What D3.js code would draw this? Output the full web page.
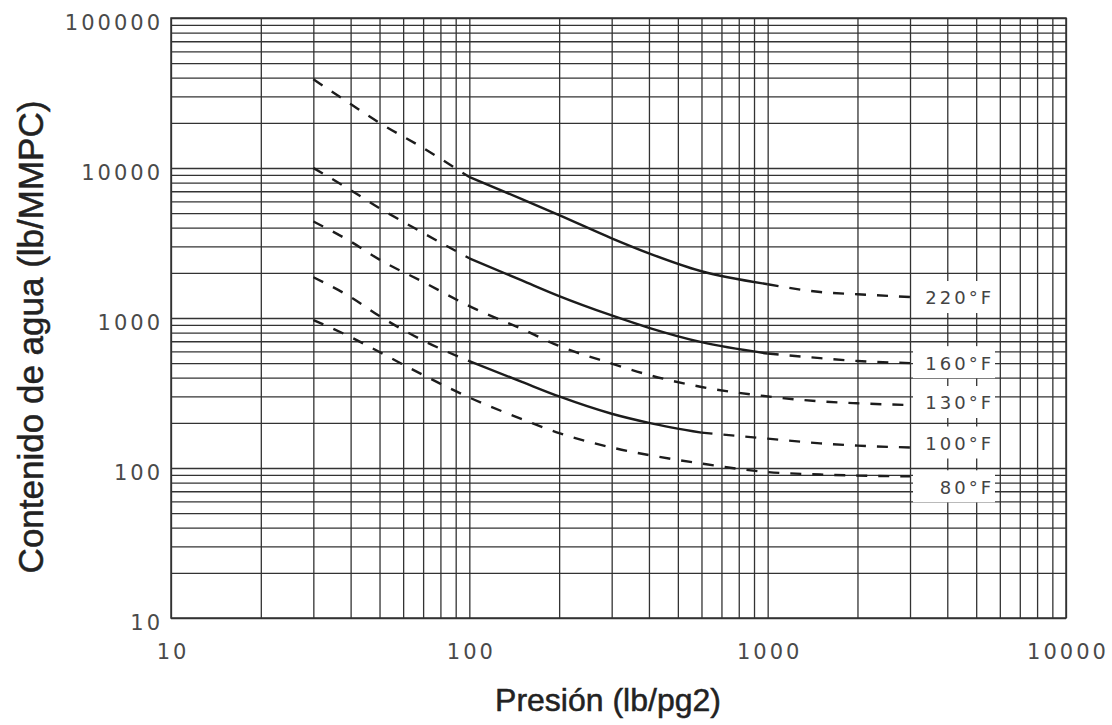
<!DOCTYPE html>
<html>
<head>
<meta charset="utf-8">
<script src="https://cdn.jsdelivr.net/npm/d3@7"></script>
<style>
  html, body { margin: 0; padding: 0; background: #fff; }
  svg { display: block; }
</style>
</head>
<body>
<svg id="chart" width="1112" height="725"></svg>
<script>
// ---------------- DATA ----------------
const seriesNames = ["220°F", "160°F", "130°F", "100°F", "80°F"];
const pressures = [30, 40, 50, 70, 100, 150, 200, 300, 400, 600, 1000, 1500, 2000, 3000];
const water220 = [39000, 26700, 20000, 13600, 8700, 6200, 4850, 3400, 2700, 2050, 1680, 1490, 1440, 1380];
const water160 = [10000, 7130, 5400, 3690, 2500, 1780, 1400, 1040, 860, 690, 580, 540, 517, 500];
const water130 = [4400, 3235, 2450, 1740, 1200, 845, 651, 497, 417, 347, 300, 278, 270, 263];
const water100 = [1870, 1380, 1030, 708, 516, 375, 300, 230, 200, 172, 157, 146, 141, 137];
const water80  = [970, 747, 593, 417, 295, 212, 171, 137, 122, 107, 94, 90.5, 89, 88];
// pressure range drawn as solid line (null = dashed everywhere)
const solidStart = [100, 100, null, 100, null];
const solidEnd   = [1000, 1000, null, 600, null];
const xTickLabels = ["10", "100", "1000", "10000"];
const yTickLabels = ["10", "100", "1000", "10000", "100000"];
const xTitle = "Presión (lb/pg2)";
const yTitle = "Contenido de agua (lb/MMPC)";

// ---------------- LAYOUT ----------------
const plot = { left: 171, right: 1066, top: 18, bottom: 618 };
const labelDy = [1, 0, -2, -4, 11];
const svg = d3.select("#chart");

const x = d3.scaleLog().domain([10, 10000]).range([plot.left, plot.right]);
const y = d3.scaleLog().domain([10, 100000]).range([plot.bottom, plot.top]);

function gridValues(lo, hi) {
  const out = [];
  for (let d = lo; d < hi; d *= 10) for (let k = 1; k <= 9; k++) out.push(d * k);
  out.push(hi);
  return out;
}
const xGrid = gridValues(10, 10000);
const yGrid = gridValues(10, 100000);
const xLabelVals = xTickLabels.map(Number);
const yLabelVals = yTickLabels.map(Number);

const gridColor = "#333";
const tickFont = "DejaVu Sans, sans-serif";

// x axis with grid
const gx = svg.append("g")
  .attr("transform", `translate(0,${plot.bottom})`)
  .call(d3.axisBottom(x)
    .tickValues(xGrid)
    .tickSize(-(plot.bottom - plot.top))
    .tickFormat(d => xLabelVals.includes(d) ? xTickLabels[xLabelVals.indexOf(d)] : ""));
gx.select(".domain").remove();
gx.selectAll(".tick line").attr("stroke", gridColor).attr("stroke-width", 1.3);
gx.selectAll(".tick text")
  .attr("y", 41).attr("dy", null).attr("x", 1.5)
  .attr("font-family", tickFont).attr("font-size", 21)
  .attr("letter-spacing", 3).attr("fill", "#4a4a4a");

// y axis with grid
const gy = svg.append("g")
  .attr("transform", `translate(${plot.left},0)`)
  .call(d3.axisLeft(y)
    .tickValues(yGrid)
    .tickSize(-(plot.right - plot.left))
    .tickFormat(d => yLabelVals.includes(d) ? yTickLabels[yLabelVals.indexOf(d)] : ""));
gy.select(".domain").remove();
gy.selectAll(".tick line").attr("stroke", gridColor).attr("stroke-width", 1.3);
gy.selectAll(".tick text")
  .attr("x", -8).attr("dy", 11)
  .attr("font-family", tickFont).attr("font-size", 21)
  .attr("letter-spacing", 3).attr("fill", "#4a4a4a");

// frame
svg.append("rect")
  .attr("x", plot.left).attr("y", plot.top)
  .attr("width", plot.right - plot.left).attr("height", plot.bottom - plot.top)
  .attr("fill", "none").attr("stroke", gridColor).attr("stroke-width", 1.5);

// ---------------- CURVES ----------------
const seriesValues = [water220, water160, water130, water100, water80];
const line = d3.line()
  .x(d => x(d.p))
  .y(d => y(d.w))
  .curve(d3.curveMonotoneX);

seriesValues.forEach((vals, i) => {
  const pts = pressures.map((p, j) => ({ p, w: vals[j] }));
  const s0 = solidStart[i], s1 = solidEnd[i];
  const segs = [];
  if (s0 === null) {
    segs.push({ pts, dashed: true });
  } else {
    segs.push({ pts: pts.filter(d => d.p <= s0), dashed: true });
    segs.push({ pts: pts.filter(d => d.p >= s0 && d.p <= s1), dashed: false });
    segs.push({ pts: pts.filter(d => d.p >= s1), dashed: true });
  }
  segs.forEach(sg => {
    if (sg.pts.length < 2) return;
    svg.append("path")
      .attr("d", line(sg.pts))
      .attr("fill", "none")
      .attr("stroke", "#1c1c1c")
      .attr("stroke-width", 2.4)
      .attr("stroke-dasharray", sg.dashed ? "11,11" : null);
  });
});

// ---------------- LABELS ----------------
seriesValues.forEach((vals, i) => {
  const cy = y(vals[vals.length - 1]) + labelDy[i];
  const bx = x(pressures[pressures.length - 1]) + 3;
  svg.append("rect")
    .attr("x", bx).attr("y", cy - 17)
    .attr("width", 82).attr("height", 32)
    .attr("fill", "#fff");
  svg.append("text")
    .attr("x", 994).attr("y", cy)
    .attr("dy", "0.36em")
    .attr("text-anchor", "end")
    .attr("font-family", tickFont).attr("font-size", 18)
    .attr("letter-spacing", 3).attr("fill", "#444")
    .text(seriesNames[i]);
});

// ---------------- TITLES ----------------
svg.append("text")
  .attr("x", 608).attr("y", 711)
  .attr("text-anchor", "middle")
  .attr("font-family", "Liberation Sans, Arial, sans-serif")
  .attr("font-size", 32)
  .attr("fill", "#222").attr("stroke", "#222").attr("stroke-width", 0.5)
  .text(xTitle);

svg.append("text")
  .attr("transform", "translate(43,337) rotate(-90)")
  .attr("text-anchor", "middle")
  .attr("font-family", "Liberation Sans, Arial, sans-serif")
  .attr("font-size", 35)
  .attr("fill", "#222").attr("stroke", "#222").attr("stroke-width", 0.5)
  .text(yTitle);
</script>
</body>
</html>
